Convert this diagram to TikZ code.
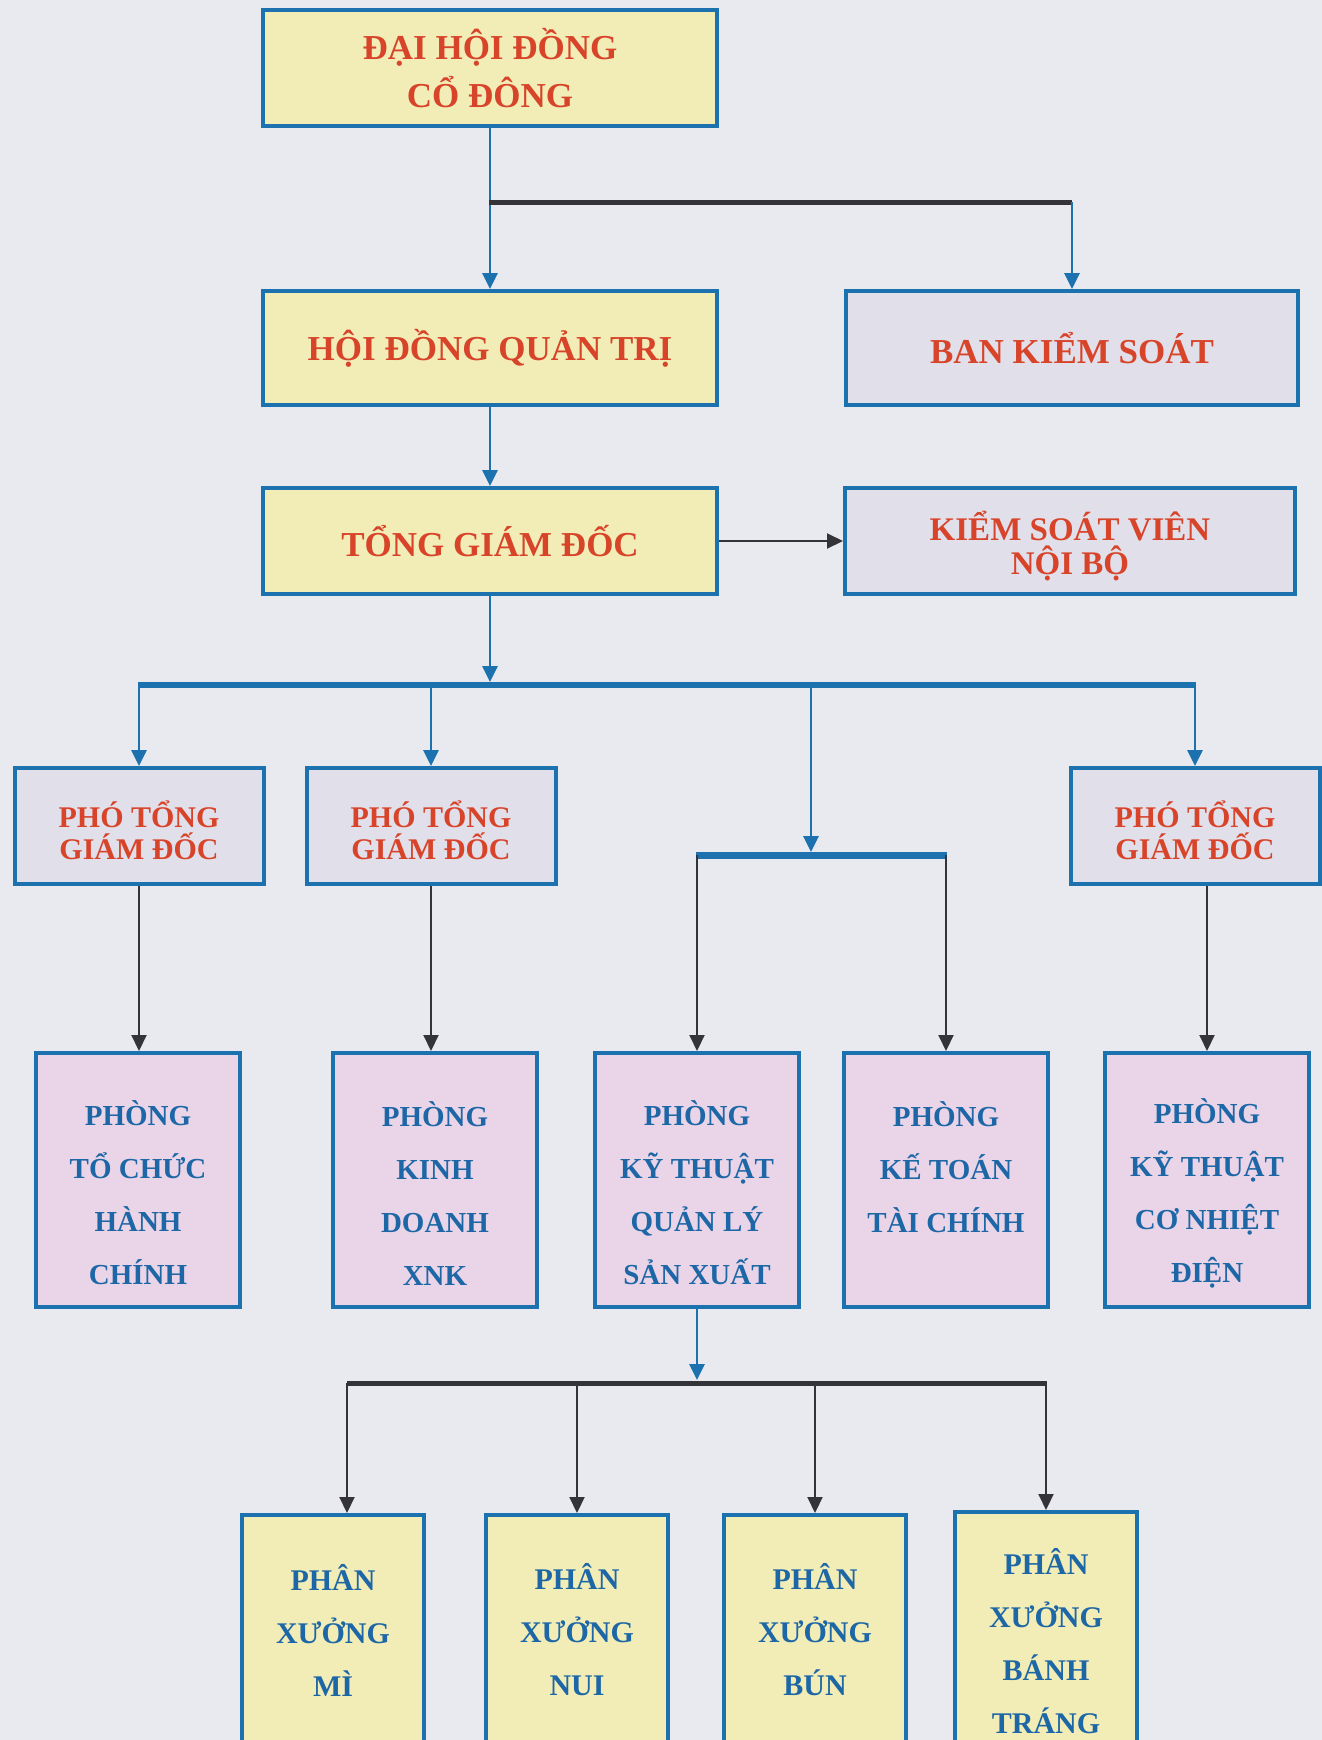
\documentclass[tikz,border=0pt]{standalone}
\usepackage{fontspec}
\setmainfont{Liberation Serif}
\usetikzlibrary{arrows.meta}
\definecolor{bg}{HTML}{E9EAF0}
\definecolor{yel}{HTML}{F2EDB6}
\definecolor{gry}{HTML}{E1E0EA}
\definecolor{pnk}{HTML}{EAD4E8}
\definecolor{bdr}{HTML}{1B72AE}
\definecolor{redt}{HTML}{D8442A}
\definecolor{bluet}{HTML}{1D67A6}
\definecolor{dark}{HTML}{333338}
\newcommand{\topgap}[1]{\rule{0pt}{#1}}
\newcommand{\tightls}{\lineskiplimit-100pt\relax}
\begin{document}
\begin{tikzpicture}[x=0.5pt,y=-0.5pt,
  box/.style={draw=bdr, line width=2pt, align=center, inner sep=0pt},
  ybox/.style={box, fill=yel, text=redt},
  gbox/.style={box, fill=gry, text=redt},
  pbox/.style={box, fill=pnk, text=bluet, minimum width=102pt, minimum height=127pt,
    font={\fontsize{14.5}{26.5}\selectfont\bfseries\tightls}},
  xbox/.style={box, fill=yel, text=bluet, minimum width=91pt,
    font={\fontsize{15}{26.5}\selectfont\bfseries\tightls}},
  pgbox/.style={gbox, minimum width=124.5pt, minimum height=58pt,
    font={\fontsize{15}{16}\selectfont\bfseries\tightls}},
  bigfont/.style={font={\fontsize{17.5}{24}\selectfont\bfseries\tightls}},
  ksfont/.style={font={\fontsize{16.5}{17}\selectfont\bfseries\tightls}},
  arr/.style={-{Triangle[length=8pt,width=7.5pt]}},
  bline/.style={draw=bdr, line width=1.4pt},
  dline/.style={draw=dark, line width=1pt},
  bbar/.style={draw=bdr, line width=3pt},
  dbar/.style={draw=dark, line width=2.5pt}]
\useasboundingbox (0,0) rectangle (1322,1740);
\clip (0,0) rectangle (1322,1740);
\fill[bg] (0,0) rectangle (1322,1740);

% top levels
\node[ybox, bigfont, minimum width=227pt, minimum height=58pt] (dh) at (490,68) {ĐẠI HỘI ĐỒNG\\CỔ ĐÔNG};
\node[ybox, bigfont, minimum width=227pt, minimum height=57pt] (hd) at (490,348) {HỘI ĐỒNG QUẢN TRỊ};
\node[gbox, bigfont, minimum width=226pt, minimum height=57pt] (bk) at (1072,348) {BAN KIỂM SOÁT};
\node[ybox, bigfont, minimum width=227pt, minimum height=53pt] (tg) at (490,541) {TỔNG GIÁM ĐỐC};
\node[gbox, ksfont, minimum width=225pt, minimum height=53pt] (ks) at (1070,541) {\topgap{20pt}KIỂM SOÁT VIÊN\\NỘI BỘ};

% deputy directors
\node[pgbox] (pg1) at (139,826) {\topgap{18pt}PHÓ TỔNG\\GIÁM ĐỐC};
\node[pgbox] (pg2) at (431,826) {\topgap{18pt}PHÓ TỔNG\\GIÁM ĐỐC};
\node[pgbox] (pg3) at (1195,826) {\topgap{18pt}PHÓ TỔNG\\GIÁM ĐỐC};

% departments
\node[pbox] (ph1) at (138,1180) {\topgap{25.6pt}PHÒNG\\TỔ CHỨC\\HÀNH\\CHÍNH};
\node[pbox] (ph2) at (435,1180) {\topgap{25.6pt}PHÒNG\\KINH\\DOANH\\XNK};
\node[pbox] (ph3) at (697,1180) {\topgap{25.6pt}PHÒNG\\KỸ THUẬT\\QUẢN LÝ\\SẢN XUẤT};
\node[pbox] (ph4) at (946,1180) {\topgap{25.6pt}PHÒNG\\KẾ TOÁN\\TÀI CHÍNH\\\mbox{}};
\node[pbox] (ph5) at (1207,1180) {\topgap{25.6pt}PHÒNG\\KỸ THUẬT\\CƠ NHIỆT\\ĐIỆN};

% workshops
\node[xbox, minimum height=115pt] (px1) at (333,1630) {PHÂN\\XƯỞNG\\MÌ};
\node[xbox, minimum height=115pt] (px2) at (577,1630) {PHÂN\\XƯỞNG\\NUI};
\node[xbox, minimum height=115pt] (px3) at (815,1630) {PHÂN\\XƯỞNG\\BÚN};
\node[xbox, minimum height=129pt] (px4) at (1046,1641) {PHÂN\\XƯỞNG\\BÁNH\\TRÁNG};

% junction points
\coordinate (a1) at (489,202);
\coordinate (a2) at (1072,202);
\coordinate (b0) at (490,682);
\coordinate (b1) at (138,685);
\coordinate (b3) at (811,685);
\coordinate (b4) at (1196,685);
\coordinate (s0) at (811,852);
\coordinate (s1) at (696,855);
\coordinate (s2) at (947,855);
\coordinate (c0) at (697,1380);
\coordinate (c1) at (347,1383);
\coordinate (c4) at (1047,1383);

% connectors
\draw[bline,arr] (dh.south) -- (hd.north);
\draw[dbar] (a1) -- (a2);
\draw[bline,arr] (a2) -- (bk.north);
\draw[bline,arr] (hd.south) -- (tg.north);
\draw[dline,arr] (tg.east) -- (ks.west);
\draw[bline,arr] (tg.south) -- (b0);
\draw[bbar] (b1) -- (b4);
\draw[bline,arr] (b1 -| pg1.north) -- (pg1.north);
\draw[bline,arr] (b1 -| pg2.north) -- (pg2.north);
\draw[bline,arr] (b4 -| pg3.north) -- (pg3.north);
\draw[bline,arr] (b3) -- (s0);
\draw[bbar, line width=3.5pt] (s1) -- (s2);
\draw[dline,arr] (s1 -| ph3.north) -- (ph3.north);
\draw[dline,arr] (s2 -| ph4.north) -- (ph4.north);
\draw[dline,arr] (pg1.south) -- (pg1.south |- ph1.north);
\draw[dline,arr] (pg2.south) -- (pg2.south |- ph2.north);
\draw[dline,arr] (ph5.north |- pg3.south) -- (ph5.north);
\draw[bline,arr] (ph3.south) -- (c0);
\draw[dbar] (c1) -- (c4);
\draw[dline,arr] (c1) -- (c1 |- px1.north);
\draw[dline,arr] (c1 -| px2.north) -- (px2.north);
\draw[dline,arr] (c1 -| px3.north) -- (px3.north);
\draw[dline,arr] (c4 -| px4.north) -- (px4.north);
\end{tikzpicture}
\end{document}
